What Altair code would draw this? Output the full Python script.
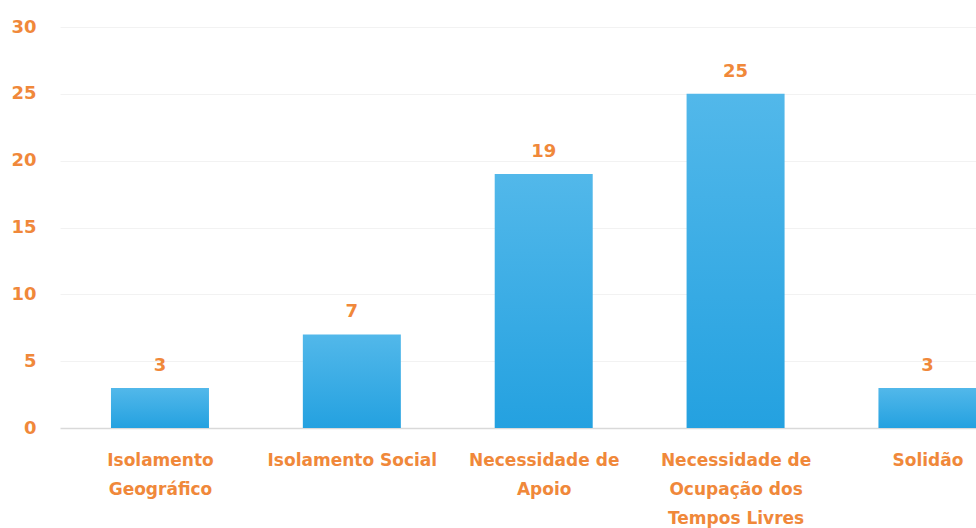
import json
import altair as alt
import pandas as pd

categories = ["Isolamento Geográfico", "Isolamento Social", "Necessidade de Apoio",
              "Necessidade de Ocupação dos Tempos Livres", "Solidão"]
label_lines = [["Isolamento", "Geográfico"], ["Isolamento Social"], ["Necessidade de", "Apoio"],
               ["Necessidade de", "Ocupação dos", "Tempos Livres"], ["Solidão"]]
values = [3, 7, 19, 25, 3]
y_ticks = [0, 5, 10, 15, 20, 25, 30]

df = pd.DataFrame({"idx": list(range(len(categories))), "categoria": categories, "valor": values})

ORANGE = "#f0883a"
FONT = "DejaVu Sans"

label_expr = json.dumps(label_lines, ensure_ascii=False) + "[round(datum.value)]"

x_axis = alt.Axis(values=list(range(len(categories))), labelExpr=label_expr,
                  title=None, grid=False, ticks=False, domain=False,
                  labelFont=FONT, labelFontWeight="bold", labelFontSize=17,
                  labelColor=ORANGE, labelLineHeight=29, labelPadding=24,
                  labelFlush=False, labelOverlap=False, labelBound=False)
y_axis = alt.Axis(values=y_ticks, title=None, ticks=False, domain=False,
                  grid=True,
                  gridColor={"condition": {"test": "datum.value === 0", "value": "#d9d9d9"},
                             "value": "#f2f2f2"},
                  gridWidth={"condition": {"test": "datum.value === 0", "value": 1.5},
                             "value": 1},
                  labelFont=FONT, labelFontWeight="bold", labelFontSize=18,
                  labelColor=ORANGE, labelPadding=24)
x_scale = alt.Scale(domain=[-0.495, 4.227], nice=False, zero=False)
y_scale = alt.Scale(domain=[0, 30], nice=False)

base = alt.Chart(df)

bars = base.mark_bar(size=98,
                     color=alt.Gradient(gradient="linear",
                                        stops=[alt.GradientStop(color="#52b8ea", offset=0),
                                               alt.GradientStop(color="#24a1e0", offset=1)],
                                        x1=0, x2=0, y1=0, y2=1)).encode(
    x=alt.X("idx:Q", scale=x_scale, axis=x_axis),
    y=alt.Y("valor:Q", scale=y_scale, axis=y_axis))

text = base.mark_text(font=FONT, fontWeight="bold", fontSize=18, color=ORANGE,
                      baseline="alphabetic", dy=-17).encode(
    x=alt.X("idx:Q", scale=x_scale, axis=x_axis),
    y=alt.Y("valor:Q", scale=y_scale, axis=y_axis), text="valor:Q")

chart = alt.layer(bars, text).properties(
    width=916, height=401,
    autosize=alt.AutoSizeParams(type="none"),
    padding={"left": 60, "top": 27, "right": 0, "bottom": 100},
).configure_view(strokeWidth=0, stroke="transparent"
).configure_axis(domain=False, domainColor="transparent", domainWidth=0
).configure(background="white", style={"cell": {"stroke": "transparent", "strokeWidth": 0}})

chart.save("out.html", embed_options={"renderer": "svg", "actions": False})
